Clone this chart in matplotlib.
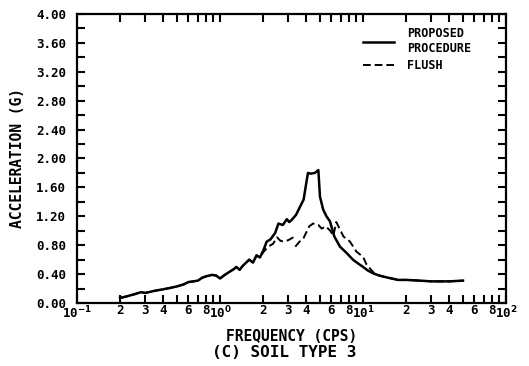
import matplotlib
matplotlib.use("Agg")
import matplotlib.pyplot as plt
import numpy as np

# response spectrum, soil type 3
freq_proposed = [0.2, 0.22, 0.25, 0.28, 0.3, 0.35, 0.4, 0.45, 0.5, 0.56, 0.6, 0.65, 0.7,
                 0.75, 0.8, 0.88, 0.94, 1.0, 1.08, 1.16, 1.25, 1.3, 1.37, 1.45, 1.6, 1.7,
                 1.8, 1.9, 2.0, 2.12, 2.25, 2.43, 2.56, 2.75, 2.93, 3.05, 3.17, 3.4, 3.6,
                 3.84, 4.04, 4.12, 4.3, 4.6, 4.87, 5.0, 5.27, 5.55, 5.87, 6.3, 6.9, 7.7,
                 8.5, 9.2, 10.0, 10.8, 11.8, 13.0, 15.0, 17.6, 20.0, 25.0, 30.0, 40.0, 50.0]
acc_proposed = [0.07, 0.09, 0.12, 0.15, 0.14, 0.17, 0.19, 0.21, 0.23, 0.26, 0.29, 0.30, 0.31,
                0.35, 0.37, 0.39, 0.38, 0.34, 0.39, 0.43, 0.47, 0.50, 0.46, 0.52, 0.60, 0.56,
                0.66, 0.63, 0.72, 0.85, 0.88, 0.97, 1.10, 1.08, 1.16, 1.12, 1.15, 1.22, 1.32,
                1.43, 1.70, 1.80, 1.79, 1.80, 1.84, 1.47, 1.29, 1.20, 1.13, 0.92, 0.78, 0.69,
                0.60, 0.55, 0.50, 0.45, 0.41, 0.38, 0.35, 0.32, 0.32, 0.31, 0.30, 0.30, 0.31]

freq_flush_a = [0.2, 0.22, 0.25, 0.28, 0.3, 0.35, 0.4, 0.45, 0.5, 0.56, 0.6, 0.65, 0.7,
                0.75, 0.8, 0.88, 0.94, 1.0, 1.08, 1.16, 1.25, 1.3, 1.37, 1.45, 1.6, 1.7,
                1.8, 1.9, 2.0, 2.17, 2.35, 2.5, 2.65, 2.8, 3.0, 3.26]
acc_flush_a = [0.07, 0.09, 0.12, 0.15, 0.14, 0.17, 0.19, 0.21, 0.23, 0.26, 0.29, 0.30, 0.31,
               0.35, 0.37, 0.39, 0.38, 0.34, 0.39, 0.43, 0.47, 0.50, 0.46, 0.52, 0.60, 0.56,
               0.66, 0.63, 0.70, 0.78, 0.82, 0.91, 0.86, 0.85, 0.87, 0.91]
freq_flush_b = [3.36, 3.6, 3.84, 4.2, 4.47, 4.87, 5.14, 5.5, 5.9, 6.2, 6.5, 7.3, 8.1, 9.0,
                10.0, 10.6, 12.0, 13.0, 15.0, 17.6, 20.0, 25.0, 30.0, 40.0, 50.0]
acc_flush_b = [0.78, 0.85, 0.90, 1.06, 1.10, 1.08, 1.03, 1.06, 1.00, 0.93, 1.12, 0.92, 0.85, 0.71,
               0.64, 0.53, 0.41, 0.38, 0.35, 0.32, 0.32, 0.31, 0.30, 0.30, 0.31]

xtick_vals = [0.1, 0.2, 0.3, 0.4, 0.6, 0.8, 1, 2, 3, 4, 6, 8, 10, 20, 30, 40, 60, 80, 100]
xtick_labels = ["10$^{-1}$", "2", "3", "4", "6", "8", "10$^{0}$", "2", "3", "4", "6", "8",
                "10$^{1}$", "2", "3", "4", "6", "8", "10$^{2}$"]
ytick_vals = [0.0, 0.4, 0.8, 1.2, 1.6, 2.0, 2.4, 2.8, 3.2, 3.6, 4.0]

plt.rcParams["font.family"] = "DejaVu Sans Mono"
plt.rcParams["font.weight"] = "bold"
plt.rcParams["mathtext.default"] = "bf"

fig = plt.figure(figsize=(5.29, 3.66), dpi=100)
ax = fig.add_axes([0.1456, 0.172, 0.811, 0.79])

ax.plot(freq_proposed, acc_proposed, color="black", lw=1.8, label="PROPOSED\nPROCEDURE")
ax.plot(freq_flush_a, acc_flush_a, color="black", lw=1.4, ls=(0, (4, 2)), label="FLUSH")
ax.plot(freq_flush_b, acc_flush_b, color="black", lw=1.4, ls=(0, (4, 2)))

ax.set_xscale("log")
ax.set_xlim(0.1, 100)
ax.set_ylim(0, 4)

ax.set_xticks(xtick_vals)
ax.set_xticklabels(xtick_labels, fontsize=9, fontweight="bold")
minor_x = [m * d for d in [0.1, 1, 10] for m in [5, 7, 9]]
ax.set_xticks(minor_x, minor=True)
ax.set_yticks(ytick_vals)
ax.set_yticklabels(["%.2f" % v for v in ytick_vals], fontsize=9, fontweight="bold")
ax.set_yticks(np.arange(0.2, 4.0, 0.4), minor=True)

ax.tick_params(which="both", direction="in", top=True, right=True, length=6, width=1.5)
ax.tick_params(axis="x", pad=1)
ax.tick_params(axis="y", pad=8)
for s in ax.spines.values():
    s.set_linewidth(1.6)

ax.set_xlabel("FREQUENCY (CPS)", fontsize=10.5, fontweight="bold", labelpad=6)
ax.set_ylabel("ACCELERATION (G)", fontsize=10.5, fontweight="bold", labelpad=8)
fig.text(0.537, 0.036, "(C) SOIL TYPE 3", fontsize=11.5, fontweight="bold",
         ha="center", va="center")

leg = ax.legend(loc="upper left", bbox_to_anchor=(0.667, 0.955), frameon=False, fontsize=8.5,
                handlelength=2.6, handletextpad=1.1, labelspacing=0.35,
                borderpad=0, borderaxespad=0)

fig.savefig("out.png", dpi=100)
